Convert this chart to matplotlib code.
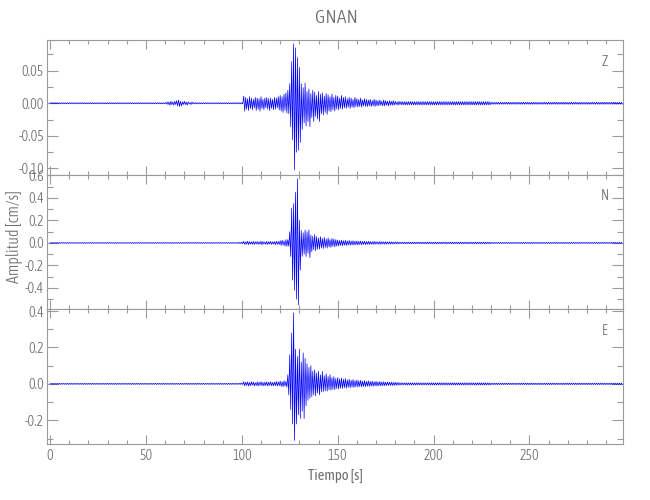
import numpy as np
import matplotlib
matplotlib.use("Agg")
import matplotlib.pyplot as plt
from matplotlib import font_manager as fm
from matplotlib.ticker import MultipleLocator, FormatStrFormatter

station = "GNAN"
channels = ["Z", "N", "E"]
x_label = "Tiempo [s]"
y_label = "Amplitud [cm/s]"
x_major = [0, 50, 100, 150, 200, 250]
last_second = 298

# per-second positive / negative peaks, starting at win_start (s)
win_start = 98
z_up = [0.001, 0.001, 0.001,
        0.011, 0.009, 0.007, 0.010, 0.008, 0.006, 0.009, 0.008, 0.007, 0.010,
        0.006, 0.008, 0.009, 0.007, 0.008, 0.006, 0.009, 0.008, 0.010,
        0.012, 0.010, 0.014, 0.016,
        0.020, 0.030, 0.064, 0.091, 0.085, 0.070, 0.055, 0.030, 0.024, 0.031,
        0.018, 0.022, 0.015, 0.020, 0.017, 0.012, 0.018,
        0.014, 0.016, 0.011, 0.015, 0.013, 0.010, 0.014, 0.009, 0.012, 0.011,
        0.008, 0.012, 0.009, 0.010, 0.007, 0.009, 0.008, 0.006, 0.009, 0.007,
        0.006, 0.008, 0.005, 0.007, 0.006, 0.005, 0.006, 0.004, 0.006, 0.005, 0.004,
        0.005, 0.003, 0.005, 0.004, 0.003, 0.004, 0.003, 0.004, 0.003, 0.002, 0.003]
z_dn = [-0.001, -0.001, -0.001,
        -0.012, -0.009, -0.011, -0.008, -0.010, -0.007, -0.011, -0.009, -0.012, -0.008,
        -0.010, -0.007, -0.009, -0.011, -0.008, -0.010, -0.009, -0.007, -0.010,
        -0.012, -0.014, -0.011, -0.015,
        -0.016, -0.036, -0.056, -0.102, -0.075, -0.072, -0.060, -0.040, -0.030, -0.035,
        -0.028, -0.036, -0.022, -0.028, -0.020, -0.024, -0.028,
        -0.016, -0.018, -0.014, -0.017, -0.012, -0.013, -0.010, -0.012, -0.009, -0.010,
        -0.008, -0.009, -0.007, -0.008, -0.006, -0.008, -0.006, -0.007, -0.005, -0.006,
        -0.005, -0.006, -0.004, -0.005, -0.005, -0.004, -0.005, -0.004, -0.005, -0.004, -0.004,
        -0.003, -0.004, -0.004, -0.003, -0.004, -0.003, -0.003, -0.003, -0.002, -0.003, -0.002]

n_up = [0.005, 0.006, 0.008,
        0.014, 0.010, 0.015, 0.012, 0.009, 0.014, 0.011, 0.013, 0.010, 0.015,
        0.012, 0.009, 0.013, 0.011, 0.014, 0.010, 0.012, 0.015, 0.013,
        0.020, 0.025, 0.018, 0.030,
        0.030, 0.100, 0.310, 0.350, 0.450, 0.570, 0.200, 0.110, 0.090, 0.115,
        0.100, 0.115, 0.070, 0.060, 0.075, 0.055, 0.045,
        0.055, 0.040, 0.050, 0.035, 0.045, 0.030, 0.040, 0.035, 0.030, 0.027,
        0.022, 0.025, 0.020, 0.024, 0.018, 0.022, 0.017, 0.020, 0.016, 0.018,
        0.015, 0.017, 0.013, 0.016, 0.012, 0.015, 0.013, 0.011, 0.014, 0.012, 0.010,
        0.013, 0.011, 0.010, 0.012, 0.009, 0.011, 0.010, 0.008, 0.010, 0.009, 0.008]
n_dn = [-0.005, -0.005, -0.007,
        -0.013, -0.011, -0.015, -0.010, -0.012, -0.014, -0.009, -0.013, -0.011, -0.015,
        -0.010, -0.012, -0.014, -0.009, -0.013, -0.011, -0.015, -0.012, -0.014,
        -0.022, -0.018, -0.028, -0.030,
        -0.030, -0.120, -0.330, -0.420, -0.500, -0.550, -0.240, -0.120, -0.100, -0.120,
        -0.090, -0.130, -0.077, -0.060, -0.070, -0.055, -0.055,
        -0.045, -0.050, -0.040, -0.045, -0.035, -0.040, -0.030, -0.035, -0.028, -0.027,
        -0.022, -0.025, -0.020, -0.023, -0.018, -0.021, -0.017, -0.019, -0.016, -0.018,
        -0.014, -0.016, -0.013, -0.015, -0.012, -0.014, -0.011, -0.013, -0.012, -0.010, -0.012,
        -0.011, -0.009, -0.011, -0.010, -0.009, -0.010, -0.008, -0.009, -0.008, -0.009, -0.007]

e_up = [0.003, 0.004, 0.005,
        0.012, 0.009, 0.011, 0.008, 0.012, 0.010, 0.007, 0.011, 0.009, 0.012,
        0.008, 0.010, 0.011, 0.009, 0.012, 0.008, 0.010, 0.013, 0.011,
        0.015, 0.012, 0.017, 0.014,
        0.050, 0.160, 0.280, 0.390, 0.190, 0.150, 0.190, 0.120, 0.170, 0.140,
        0.110, 0.090, 0.100, 0.070, 0.077, 0.060, 0.070,
        0.050, 0.068, 0.045, 0.055, 0.040, 0.050, 0.035, 0.040, 0.030, 0.035,
        0.028, 0.032, 0.025, 0.030, 0.022, 0.026, 0.020, 0.024, 0.018, 0.022,
        0.017, 0.020, 0.015, 0.018, 0.014, 0.017, 0.013, 0.015, 0.012, 0.014, 0.011,
        0.013, 0.010, 0.012, 0.009, 0.011, 0.009, 0.010, 0.008, 0.009, 0.008, 0.007]
e_dn = [-0.003, -0.003, -0.004,
        -0.011, -0.008, -0.012, -0.010, -0.007, -0.011, -0.009, -0.012, -0.008, -0.010,
        -0.011, -0.009, -0.012, -0.008, -0.010, -0.011, -0.009, -0.012, -0.010,
        -0.013, -0.016, -0.012, -0.018,
        -0.060, -0.140, -0.220, -0.310, -0.220, -0.170, -0.190, -0.150, -0.190, -0.120,
        -0.090, -0.080, -0.070, -0.060, -0.065, -0.050, -0.060,
        -0.045, -0.042, -0.038, -0.040, -0.032, -0.035, -0.030, -0.032, -0.026, -0.028,
        -0.024, -0.026, -0.021, -0.024, -0.019, -0.022, -0.017, -0.020, -0.016, -0.018,
        -0.015, -0.017, -0.014, -0.016, -0.013, -0.014, -0.012, -0.013, -0.011, -0.012, -0.010,
        -0.011, -0.010, -0.010, -0.009, -0.009, -0.008, -0.009, -0.008, -0.008, -0.007, -0.007]

# small precursor on Z, per-second peaks from 60 s
z_burst_start = 60
z_burst_up = [0.001, 0.002, 0.002, 0.003, 0.002, 0.003, 0.004, 0.005, 0.003,
              0.002, 0.003, 0.002, 0.002, 0.001, 0.002, 0.001, 0.001]
z_burst_dn = [-0.001, -0.002, -0.003, -0.002, -0.003, -0.002, -0.004, -0.005, -0.004,
              -0.002, -0.002, -0.003, -0.001, -0.002, -0.001, -0.001, -0.001]

# background noise levels: before event, coda 183-230 s, after 230 s
noise_edges = [0, win_start, 183, 230, last_second + 1]
z_noise = [0.0009, 0.0025, 0.0015]
n_noise = [0.004, 0.007, 0.005]
e_noise = [0.003, 0.006, 0.004]

ylims = [(-0.110, 0.097), (-0.587, 0.604), (-0.33, 0.411)]
y_major = [0.05, 0.2, 0.2]
y_minor = [0.025, 0.1, 0.1]
y_fmt = ["%.2f", "%.1f", "%.1f"]


def build(up_w, dn_w, noise, burst=None):
    secs = np.arange(0, last_second + 1)
    up = np.zeros(len(secs))
    dn = np.zeros(len(secs))
    segs = [(noise_edges[0], noise_edges[1]), (noise_edges[2], noise_edges[3]),
            (noise_edges[3], noise_edges[4])]
    for (a, b), lev in zip(segs, noise):
        up[a:b] = lev
        dn[a:b] = -lev
    k = min(len(up_w), len(dn_w))
    up[win_start:win_start + k] = up_w[:k]
    dn[win_start:win_start + k] = dn_w[:k]
    if burst is not None:
        s, bu, bd = burst
        k = min(len(bu), len(bd))
        up[s:s + k] = bu[:k]
        dn[s:s + k] = bd[:k]
    t = np.column_stack([secs, secs + 0.5]).ravel()
    y = np.column_stack([up, dn]).ravel()
    return t, y


traces = [build(z_up, z_dn, z_noise, (z_burst_start, z_burst_up, z_burst_dn)),
          build(n_up, n_dn, n_noise),
          build(e_up, e_dn, e_noise)]


# pick a narrow / condensed font if one is installed (Hershey-like look)
def _w(v):
    m = {"ultralight": 200, "light": 300, "normal": 400, "regular": 400, "book": 400,
         "medium": 500, "semibold": 600, "demibold": 600, "bold": 700, "heavy": 800,
         "extra bold": 800, "black": 900}
    if isinstance(v, (int, float)):
        return int(v)
    return m.get(str(v).lower(), 400)


cands = []
for f in fm.fontManager.ttflist:
    fn = f.fname.lower()
    narrow = ("narrow" in fn or "condensed" in fn or "condensed" in str(f.stretch))
    if narrow and f.style == "normal" and 250 <= _w(f.weight) <= 400:
        cands.append(f)
cands.sort(key=lambda f: abs(_w(f.weight) - 300))
if cands:
    pick = cands[0]
    plt.rcParams["font.family"] = [pick.name, "DejaVu Sans"]
    plt.rcParams["font.stretch"] = pick.stretch
    plt.rcParams["font.weight"] = _w(pick.weight)
else:
    plt.rcParams["font.family"] = ["Roboto", "DejaVu Sans"]
    plt.rcParams["font.weight"] = 300

txt = "#6e6e6e"
axc = "#9a9a9a"

fig = plt.figure(figsize=(6.5, 5), dpi=100)
left = 46.7 / 650
width = (623.3 - 46.7) / 650
tops = [40, 175, 309]
bots = [175, 309, 444]
axes = []
for i in range(3):
    ax = fig.add_axes([left, 1 - bots[i] / 500, width, (bots[i] - tops[i]) / 500])
    axes.append(ax)
    t, y = traces[i]
    ax.plot(t, y, color="#0000ff", lw=0.5)
    ax.set_xlim(-1.8, 299)
    ax.set_ylim(*ylims[i])
    ax.xaxis.set_major_locator(plt.FixedLocator(x_major))
    ax.xaxis.set_minor_locator(MultipleLocator(10))
    ax.yaxis.set_major_locator(MultipleLocator(y_major[i]))
    ax.yaxis.set_minor_locator(MultipleLocator(y_minor[i]))
    ax.yaxis.set_major_formatter(FormatStrFormatter(y_fmt[i]))
    ax.tick_params(axis="both", which="both", direction="in", top=True, right=True,
                   colors=axc, labelcolor=txt, labelsize=10, width=0.8)
    ax.tick_params(axis="x", which="major", length=6.5)
    ax.tick_params(axis="x", which="minor", length=3)
    ax.tick_params(axis="y", which="major", length=8)
    ax.tick_params(axis="y", which="minor", length=4.3)
    ax.tick_params(axis="y", pad=2)
    for sp in ax.spines.values():
        sp.set_color(axc)
        sp.set_linewidth(0.8)
    if i < 2:
        ax.tick_params(axis="x", labelbottom=False)
    ax.text(0.968, 0.84, channels[i], transform=ax.transAxes, color=txt,
            fontsize=10, ha="center", va="center")

axes[2].set_xlabel(x_label, color=txt, fontsize=10.5, labelpad=4)
fig.text(0.5177, 1 - 18 / 500, station, color=txt, fontsize=14, ha="center", va="center")
fig.text(0.022, 1 - 237 / 500, y_label, color=txt, fontsize=11.5, rotation=90,
         ha="center", va="center")

fig.savefig("out.png", dpi=100)
